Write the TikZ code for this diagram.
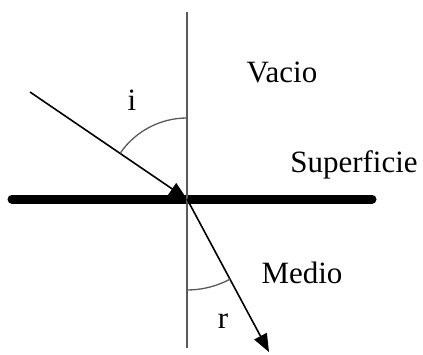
\documentclass[tikz,border=0pt]{standalone}
\usepackage{fontspec}
\setmainfont{Liberation Serif}
\usetikzlibrary{arrows.meta, positioning}
\definecolor{normalgray}{RGB}{90,90,90}

\begin{document}
\begin{tikzpicture}[x=1pt, y=1pt,
    ray/.style={line width=1.6pt, -{Triangle[length=18pt, width=14pt]}},
    anglearc/.style={line width=1.3pt, color=normalgray},
    lbl/.style={font=\fontsize{31}{37}\selectfont, anchor=base, inner sep=0pt}]
    \useasboundingbox (0,0) rectangle (423,354);

    % Points
    \coordinate (O) at (187,155);
    \coordinate (src) at (30,262);
    \coordinate (dst) at (269,2);
    \coordinate (surfL) at (12,155);
    \coordinate (surfR) at (372,155);
    \coordinate (normT) at (187,342);
    \coordinate (normB) at (187,6);

    % Incident ray
    \draw[ray] (src) -- (O);

    % Surface
    \draw[line width=9pt, line cap=round] (surfL) -- (surfR);

    % Normal
    \draw[line width=1.8pt, color=normalgray] (normT) -- (normB);

    % Refracted ray
    \draw[ray] (O) -- (dst);

    % Angles
    \draw[anglearc] ([shift={(90:81)}]O) arc[start angle=90, end angle=145.7, radius=81];
    \draw[anglearc] ([shift={(270:91)}]O) arc[start angle=270, end angle=298.3, radius=91];

    % Labels
    \node[lbl] (vacio) at (282,271) {Vacio};
    \node[lbl] (superficie) at (354,182) {Superficie};
    \node[lbl] (medio) at (302,71) {Medio};
    \node[lbl] (angi) at (132,243) {i};
    \node[lbl] (angr) at (223,26) {r};
\end{tikzpicture}
\end{document}
